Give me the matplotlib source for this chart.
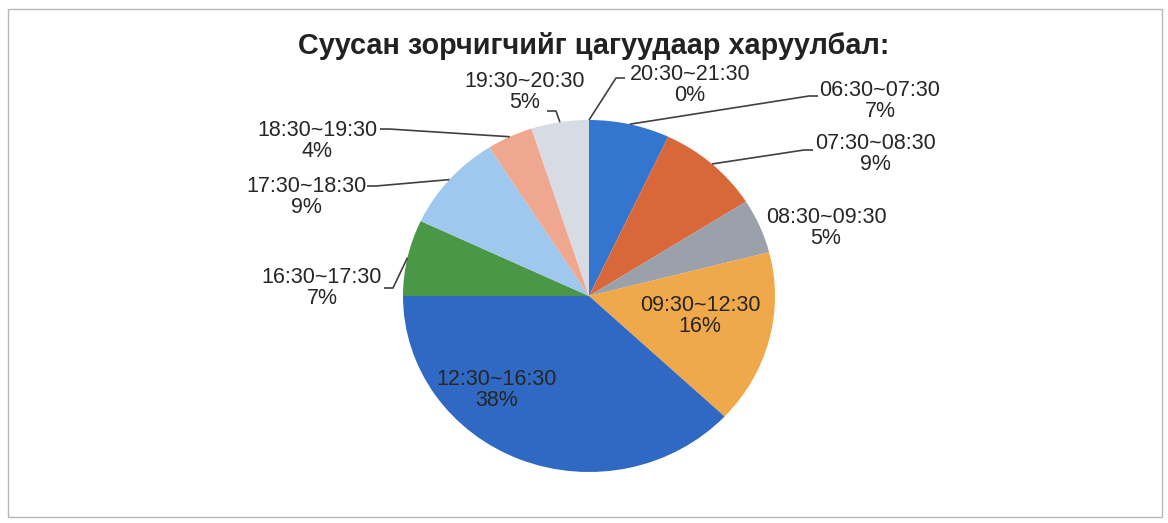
import matplotlib.pyplot as plt
import numpy as np
from matplotlib.patches import Rectangle

plt.rcParams['font.family'] = ['Liberation Sans', 'DejaVu Sans']

# data (clockwise from 12 o'clock)
periods = ['06:30~07:30', '07:30~08:30', '08:30~09:30', '09:30~12:30',
           '12:30~16:30', '16:30~17:30', '17:30~18:30', '18:30~19:30',
           '19:30~20:30', '20:30~21:30']
shares = [7, 9, 5, 16, 38, 7, 9, 4, 5, 0]
colors = ['#3476cf', '#d8683a', '#9ba1ab', '#efa84a', '#2f69c3',
          '#4b9748', '#9fc8ef', '#f0a78f', '#d7dbe3', '#8e8e8e']
title = 'Суусан зорчигчийг цагуудаар харуулбал:'

W, H = 1168, 523
K = 186 / 176  # scan stretched the pie a bit horizontally


def px(x, y):
    # pixel position (from top-left) -> data coords
    return x, (H - y) * K


# label layout in pixels: text centre, leader start, elbow direction (None = no line)
label_pos = {
    '06:30~07:30': ((880, 101), (818, 96), -1),
    '07:30~08:30': ((875, 154), (813, 150), -1),
    '08:30~09:30': ((826, 228), None, 0),
    '09:30~12:30': ((700, 316), None, 0),
    '12:30~16:30': ((497, 390), None, 0),
    '16:30~17:30': ((322, 288), (384, 288), 1),
    '17:30~18:30': ((306, 197), (367, 186), 1),
    '18:30~19:30': ((317, 141), (380, 129), 1),
    '19:30~20:30': ((525, 92), (547, 111), 1),
    '20:30~21:30': ((690, 85), (625, 78), -1),
}

fig = plt.figure(figsize=(W / 100, H / 100), dpi=100)
ax = fig.add_axes([0, 0, 1, 1])

cx, cy = px(589, 296)
R = 186
wedges, _ = ax.pie(shares, colors=colors, startangle=90, counterclock=False,
                   center=(cx, cy), radius=R,
                   wedgeprops=dict(linewidth=0))
ax.set_aspect('auto')
ax.set_xlim(0, W)
ax.set_ylim(0, H * K)
ax.axis('off')

total = sum(shares)
for w, name, val in zip(wedges, periods, shares):
    (tx, ty), start, d = label_pos[name]
    pct = round(val / total * 100)
    ax.text(*px(tx, ty), f'{name}\n{pct}%', ha='center', va='center',
            fontsize=15.5, color='#262626', linespacing=1.05)
    if start is None:
        continue
    mid = np.deg2rad((w.theta1 + w.theta2) / 2)
    ex, ey = cx + R * np.cos(mid), cy + R * np.sin(mid)
    sx, sy = px(*start)
    ax.plot([sx, sx + d * 9, ex], [sy, sy, ey], color='#404040', lw=1.2,
            solid_capstyle='butt')

fig.text(594 / W, 1 - 46 / H, title, ha='center', va='center',
         fontsize=20.8, fontweight='bold', color='#222222')

fig.patches.append(Rectangle((8 / W, 6 / H), 1154 / W, 1 - 15 / H,
                             transform=fig.transFigure, fill=False,
                             edgecolor='#b8b8b8', lw=1))

fig.savefig('out.png', dpi=100, facecolor='white')
